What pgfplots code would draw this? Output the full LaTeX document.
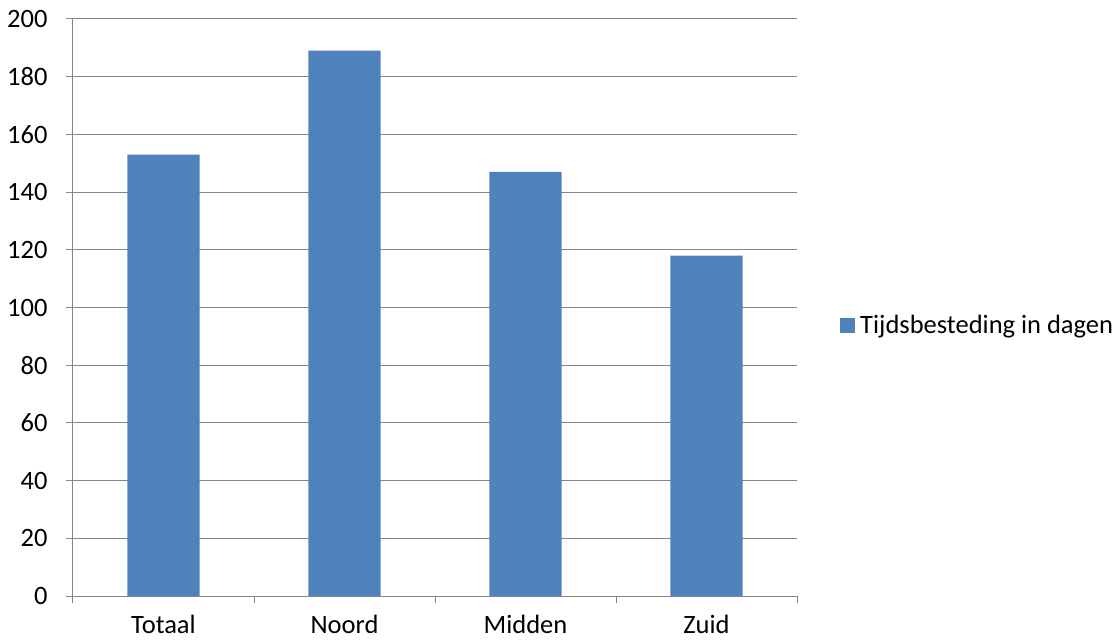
\documentclass[border=0pt]{standalone}
\usepackage{fontspec}
\setmainfont{Carlito}
\usepackage{pgfplots}
\pgfplotsset{compat=1.18}
\definecolor{barblue}{HTML}{4F81BD}
\definecolor{gridgray}{HTML}{868686}
\newcommand\chartfont{\fontsize{26.5}{30}\selectfont}
\begin{document}
\begin{tikzpicture}
\useasboundingbox (0,0) rectangle (1120pt,641pt);
\begin{axis}[
  at={(73pt,45pt)}, anchor=south west,
  scale only axis,
  width=724pt, height=577pt,
  ybar,
  bar width=0.4,
  xmin=-0.5, xmax=3.5,
  ymin=0, ymax=200,
  ytick={0,20,...,200},
  xtick={0,1,2,3},
  xticklabels={Totaal,Noord,Midden,Zuid},
  minor xtick={-0.5,0.5,1.5,2.5,3.5},
  major x tick style={draw=none},
  minor x tick style={draw=gridgray, line width=1pt},
  tick align=outside,
  minor tick length=7pt,
  major tick length=7pt,
  y tick style={draw=gridgray, line width=1pt},
  axis x line*=bottom,
  axis y line*=left,
  axis line style={draw=gridgray, line width=1pt, -},
  ymajorgrids,
  grid style={draw=gridgray, line width=1pt},
  /pgf/number format/assume math mode=true,
  tick label style={font=\chartfont},
  yticklabel style={xshift=-15pt},
  xticklabel style={inner sep=0pt, yshift=-12pt},
  legend style={at={(1,0.5)}, anchor=west, xshift=43pt, yshift=-18pt,
    draw=none, fill=none, font=\chartfont, inner sep=0pt,
    /tikz/every odd column/.append style={column sep=3pt}},
  legend image code/.code={\fill[barblue] (0pt,-7.5pt) rectangle (15pt,7.5pt);},
  legend cell align=left,
]
\addplot[draw=none, fill=barblue] coordinates {(0,153) (1,189) (2,147) (3,118)};
\legend{Tijdsbesteding in dagen}
\end{axis}
\end{tikzpicture}
\end{document}
